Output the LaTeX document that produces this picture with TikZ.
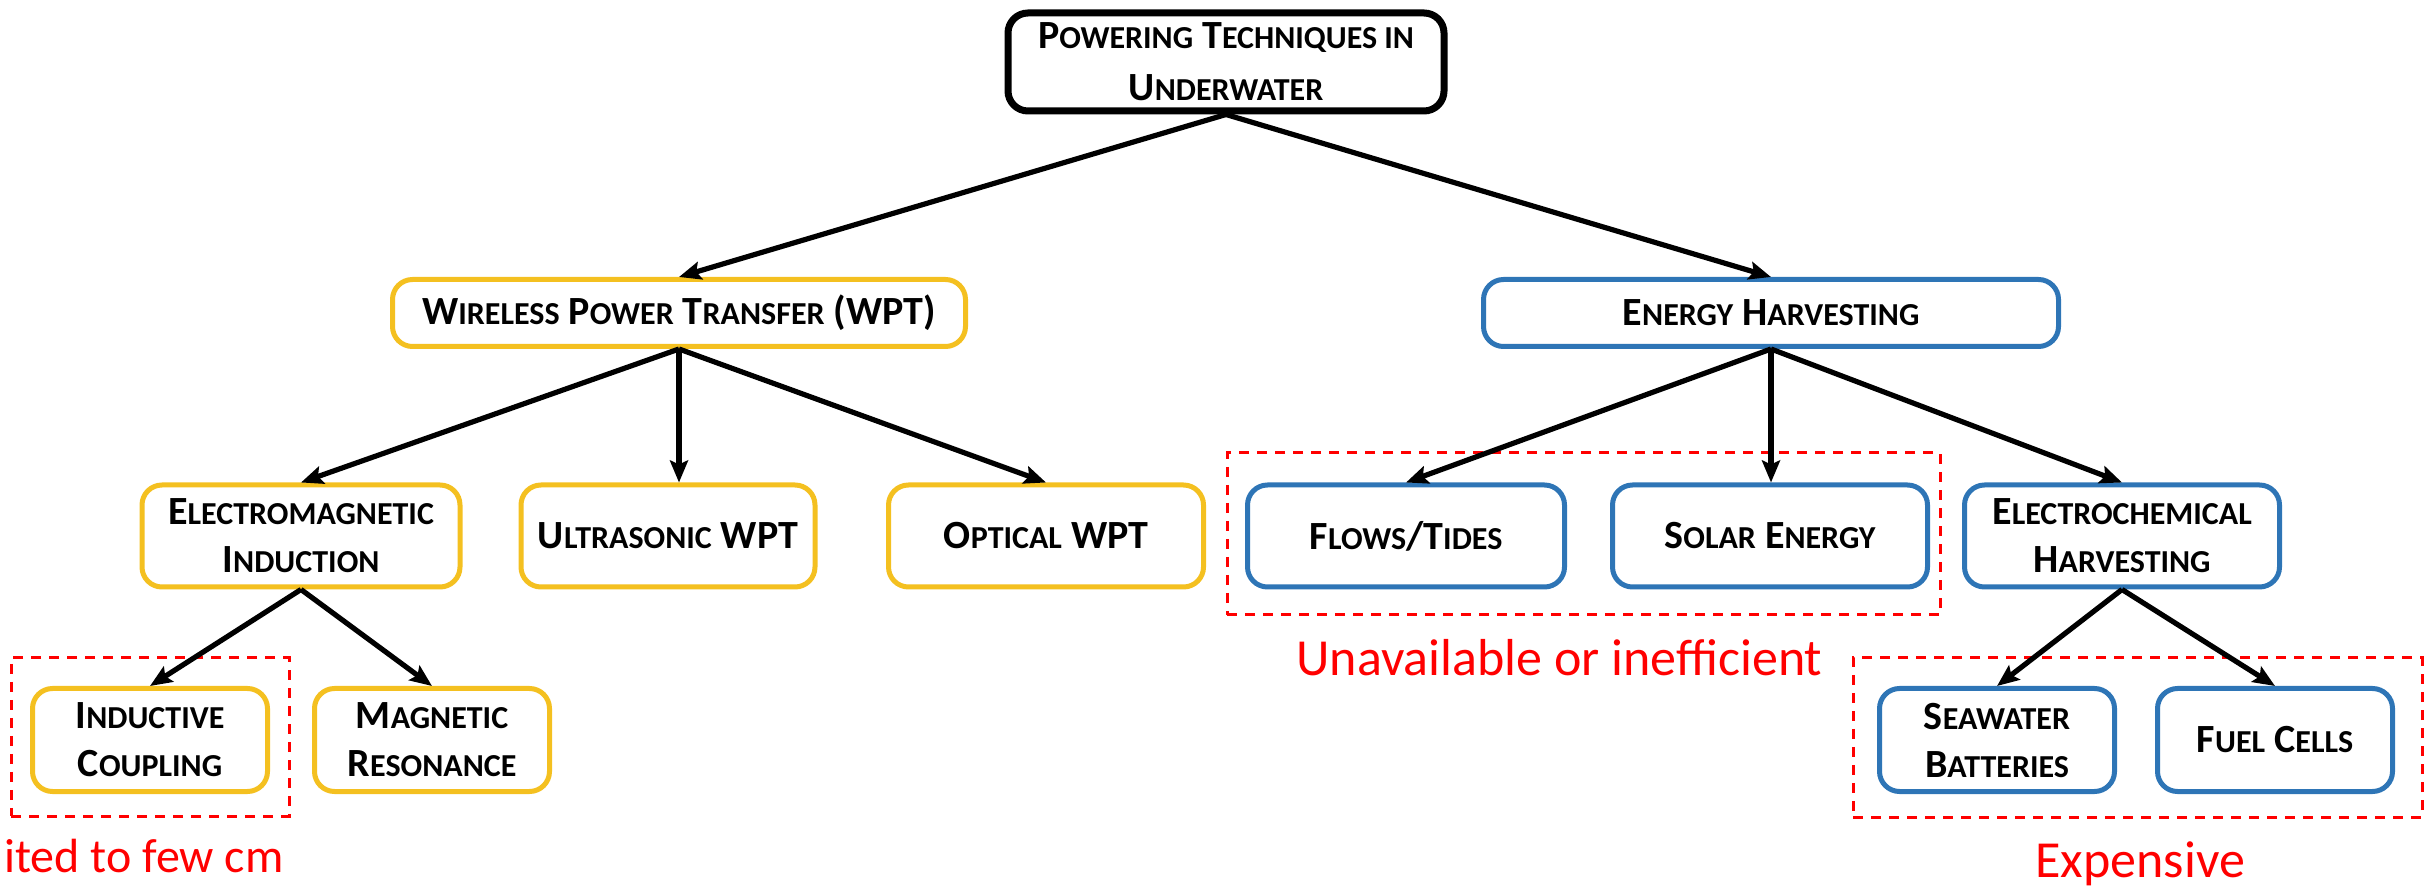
\documentclass[tikz,border=0pt]{standalone}
\usepackage{fontspec}
\setmainfont{Carlito}
\usetikzlibrary{arrows.meta}
\definecolor{boxyellow}{HTML}{F4C020}
\definecolor{boxblue}{HTML}{2E75B6}
\definecolor{annred}{HTML}{FF0000}
\newcommand\smc[1]{{\fontsize{16pt}{24pt}\selectfont #1}}
\begin{document}
\begin{tikzpicture}[x=0.5pt,y=-0.5pt,
  box/.style={draw, rounded corners=10pt, line width=2.5pt, align=center, inner sep=0pt, fill=white,
    font=\bfseries\fontsize{20pt}{24pt}\selectfont},
  ybox/.style={box, draw=boxyellow},
  bbox/.style={box, draw=boxblue},
  kbox/.style={box, draw=black, line width=3.5pt, font=\bfseries\fontsize{20pt}{26pt}\selectfont},
  arr/.style={line width=2.6pt, -{Stealth[length=11pt,width=9pt,inset=2pt]}},
  dashbox/.style={draw=annred, line width=1.5pt, dash pattern=on 5pt off 4pt, inner sep=0pt},
  note/.style={text=annred, font=\fontsize{26pt}{30pt}\selectfont, inner sep=0pt}
]
\useasboundingbox (0,0) rectangle (2425,886);
% dashed groups
\node[dashbox, minimum width=139pt, minimum height=79pt] (dl) at (150,737) {};
\node[dashbox, minimum width=356.5pt, minimum height=81pt] (dm) at (1583.5,534) {};
\node[dashbox, minimum width=284.5pt, minimum height=79.5pt] (dr) at (2137.5,737.5) {};
% level 0
\node[kbox, minimum width=218pt, minimum height=49pt] (top) at (1226,62)
  {P\smc{OWERING} T\smc{ECHNIQUES IN}\\U\smc{NDERWATER}};
% level 1
\node[ybox, minimum width=286.5pt, minimum height=33.5pt] (wpt) at (679,313)
  {W\smc{IRELESS} P\smc{OWER} T\smc{RANSFER} (WPT)};
\node[bbox, minimum width=287.5pt, minimum height=33.5pt] (eh) at (1771,313)
  {E\smc{NERGY} H\smc{ARVESTING}};
% level 2
\node[ybox, minimum width=159pt, minimum height=51pt] (emi) at (301,536)
  {E\smc{LECTROMAGNETIC}\\I\smc{NDUCTION}};
\node[ybox, minimum width=147pt, minimum height=51pt] (ultra) at (668,536)
  {U\smc{LTRASONIC} WPT};
\node[ybox, minimum width=157.5pt, minimum height=51pt] (opt) at (1046,536)
  {O\smc{PTICAL} WPT};
\node[bbox, minimum width=158.5pt, minimum height=51pt] (flows) at (1406,536)
  {F\smc{LOWS}/T\smc{IDES}};
\node[bbox, minimum width=157.5pt, minimum height=51pt] (solar) at (1770,536)
  {S\smc{OLAR} E\smc{NERGY}};
\node[bbox, minimum width=157.5pt, minimum height=51pt] (echem) at (2122,536)
  {E\smc{LECTROCHEMICAL}\\H\smc{ARVESTING}};
% level 3
\node[ybox, minimum width=117.5pt, minimum height=51.5pt] (ind) at (150,740)
  {I\smc{NDUCTIVE}\\C\smc{OUPLING}};
\node[ybox, minimum width=117.5pt, minimum height=51.5pt] (mag) at (432,740)
  {M\smc{AGNETIC}\\R\smc{ESONANCE}};
\node[bbox, minimum width=117.5pt, minimum height=51.5pt] (sea) at (1997,740)
  {S\smc{EAWATER}\\B\smc{ATTERIES}};
\node[bbox, minimum width=117.5pt, minimum height=51.5pt] (fuel) at (2275,740)
  {F\smc{UEL} C\smc{ELLS}};
% connectors
\draw[arr] (top.south) -- (wpt.north);
\draw[arr] (top.south) -- (eh.north);
\draw[arr] (wpt.south) -- (emi.north);
\draw[arr] (wpt.south) -- (wpt.south |- ultra.north);
\draw[arr] (wpt.south) -- (opt.north);
\draw[arr] (eh.south) -- (flows.north);
\draw[arr] (eh.south) -- (eh.south |- solar.north);
\draw[arr] (eh.south) -- (echem.north);
\draw[arr] (emi.south) -- (ind.north);
\draw[arr] (emi.south) -- (mag.north);
\draw[arr] (echem.south) -- (sea.north);
\draw[arr] (echem.south) -- (fuel.north);
% annotations
\node[note, anchor=base west, font=\fontsize{24pt}{28pt}\selectfont] (n1) at (4,872) {ited to few cm};
\node[note, anchor=base west] (n2) at (1296,676) {Unavailable or inefficient};
\node[note, anchor=base west] (n3) at (2035,877) {Expensive};
\end{tikzpicture}
\end{document}
